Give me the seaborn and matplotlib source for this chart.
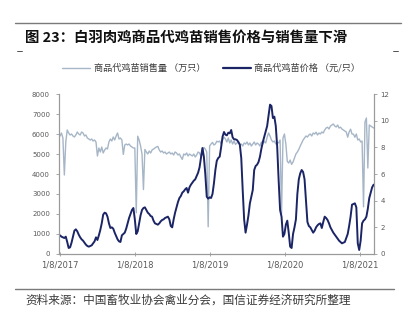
import matplotlib
matplotlib.use('Agg')
import matplotlib.pyplot as plt
import seaborn as sns
import pandas as pd
from matplotlib.lines import Line2D

# ---------------- data ----------------
start_date = '2017-01-08'

volume = [
    5900, 6050, 5800, 3950, 5600, 6200, 6050, 5950, 6000, 5900,
    5850, 5950, 6100, 6000, 5950, 6100, 6050, 5900, 5950, 5800,
    5750, 5700, 5750, 5650, 5700, 5600, 4900, 5300, 5100, 5350,
    5050, 5200, 5300, 5250, 5600, 5750, 5650, 5850, 5700, 5900,
    6050, 5750, 5800, 5700, 4980, 5450, 5500, 5450, 5500, 5400,
    5350, 5300, 5300, 2060, 5890, 5700, 5400, 5000, 3220, 5230,
    5100, 5000, 5150, 5050, 5200, 5250, 5300, 5350, 5380, 5200,
    5100, 5150, 5050, 5100, 5000, 5050, 5100, 5000, 5050, 4950,
    5100, 5050, 4950, 5000, 4850, 4730, 5000, 4950, 5050, 4900,
    5000, 4950, 4900, 5000, 4850, 4950, 5100, 5050, 4880, 5000,
    5330, 5250, 5100, 1360, 5400, 5500, 5580, 5450, 5500, 5640,
    5600, 5650, 5500, 5700, 5850, 5750, 5600, 5800, 5550, 5700,
    5500, 5650, 5480, 5550, 5600, 5450, 5500, 5400, 5550, 5500,
    5600, 5450, 5550, 5400, 5500, 5600, 5450, 5550, 5500, 5400,
    5600, 5500, 5640, 5550, 5840, 6050, 5900, 5700, 5600, 5650,
    5500, 5600, 5550, 5700, 2000, 5800, 6000, 5500, 4630, 4550,
    4700, 4480, 4600, 4800, 5000, 5100, 5230, 5400, 5550, 5700,
    5800, 5900, 5850, 5950, 6000, 5900, 6050, 6000, 6090, 5950,
    6050, 6000, 6100, 6050, 6200, 6300, 6340, 6250, 6400, 6450,
    6500, 6400, 6350, 6450, 6300, 6340, 6250, 6200, 6150, 6100,
    5840, 6100, 6240, 6000, 5990, 5840, 6000, 5700, 5750, 5600,
    5650, 2360, 6600, 6800, 4300, 6450, 6400, 6350, 6300,
]

price = [
    1.4, 1.3, 1.25, 1.2, 1.3, 0.9, 0.45, 0.5, 0.85, 1.3,
    1.75, 1.85, 1.7, 1.45, 1.25, 1.1, 1.0, 0.85, 0.7, 0.6,
    0.55, 0.6, 0.65, 0.8, 0.95, 1.25, 1.05, 1.4, 1.8, 2.3,
    2.95, 3.1, 3.05, 2.8, 2.3, 1.95, 2.0, 1.9, 1.6, 1.35,
    1.1, 0.95, 0.9, 1.4, 1.5, 1.6, 1.9, 2.3, 2.7, 3.0,
    3.3, 3.45, 2.6, 1.5, 1.7, 2.3, 2.9, 3.3, 3.45, 3.5,
    3.3, 3.1, 3.0, 2.85, 2.8, 2.5, 2.3, 2.25, 2.2, 2.3,
    2.45, 2.55, 2.6, 2.7, 2.75, 2.8, 2.6, 2.1, 2.0, 2.6,
    3.1, 3.5, 3.9, 4.2, 4.35, 4.6, 4.7, 4.85, 4.95, 4.6,
    5.0, 5.2, 5.35, 5.5, 5.6, 5.85, 6.1, 6.5, 7.2, 7.95,
    7.3, 6.0, 4.3, 4.15, 4.25, 4.2, 4.5, 5.3, 6.3, 7.0,
    7.2, 7.3, 8.0, 8.8, 9.15, 8.95, 8.9, 9.1, 9.05, 9.3,
    8.75, 8.6, 8.6, 8.55, 8.4, 8.2, 7.2, 4.8, 2.6, 1.6,
    2.2, 2.9, 3.8, 4.3, 4.8, 6.3, 6.6, 6.7, 6.9, 7.3,
    7.9, 8.4, 8.8, 9.2, 9.6, 10.4, 11.2, 11.1, 10.2, 10.3,
    9.6, 8.0, 5.5, 3.3, 2.8, 1.3, 1.5, 2.2, 2.5, 1.6,
    0.55, 0.45, 1.5, 2.0, 2.6, 4.5, 5.6, 6.05, 6.3, 6.15,
    5.6, 4.0, 2.4, 2.1, 2.0, 1.8, 1.6, 1.75, 2.0, 2.15,
    2.25, 2.3, 1.95, 2.4, 2.8, 2.7, 2.55, 2.3, 2.0, 1.8,
    1.6, 1.45, 1.3, 1.15, 1.0, 0.9, 0.8, 0.85, 0.9, 1.2,
    1.5, 2.1, 2.8, 3.7, 3.75, 3.8, 3.5, 0.8, 0.3, 1.0,
    2.3, 2.5, 2.6, 2.8, 3.4, 4.2, 4.6, 5.0, 5.2,
]

x_tick_dates = ['2017-01-08', '2018-01-08', '2019-01-08', '2020-01-08', '2021-01-08']
x_tick_labels = ['1/8/2017', '1/8/2018', '1/8/2019', '1/8/2020', '1/8/2021']
left_ticks = [0, 1000, 2000, 3000, 4000, 5000, 6000, 7000, 8000]
right_ticks = [0, 2, 4, 6, 8, 10, 12]

label_volume = '商品代鸡苗销售量 （万只）'
label_price = '商品代鸡苗价格 （元/只）'
title_text = '图 23：白羽肉鸡商品代鸡苗销售价格与销售量下滑'
source_text = '资料来源：中国畜牧业协会禽业分会，国信证券经济研究所整理'

# ---------------- style ----------------
sns.set_style('white')
plt.rcParams['font.family'] = ['Noto Sans CJK SC', 'DejaVu Sans']

c_vol = '#a6b6c7'
c_price = '#1b2566'
c_tick = '#5a5a5a'
c_spine = '#9a9a9a'

dates = pd.date_range(start_date, periods=len(volume), freq='7D')
df = pd.DataFrame({'date': dates, 'volume': volume, 'price': price})

W, H = 408, 315
fig = plt.figure(figsize=(W / 100, H / 100), dpi=100)
ax = fig.add_axes([59 / W, 1 - 254 / H, (374 - 59) / W, (254 - 94) / H])

sns.lineplot(data=df, x='date', y='volume', ax=ax, color=c_vol, linewidth=1.0)
ax2 = ax.twinx()
sns.lineplot(data=df, x='date', y='price', ax=ax2, color=c_price, linewidth=1.4)

ax.set_xlim(pd.Timestamp('2017-01-03'), pd.Timestamp('2021-03-16'))
ax.set_ylim(0, 8000)
ax2.set_ylim(0, 12)
ax.set_yticks(left_ticks)
ax.set_yticklabels([str(t) for t in left_ticks])
ax2.set_yticks(right_ticks)
ax2.set_yticklabels([str(t) for t in right_ticks])
ax.set_xticks([pd.Timestamp(d) for d in x_tick_dates])
ax.set_xticklabels(x_tick_labels)

for a in (ax, ax2):
    a.set_xlabel('')
    a.set_ylabel('')
    a.grid(False)
    for s in a.spines.values():
        s.set_color(c_spine)
        s.set_linewidth(0.8)
    a.spines['top'].set_visible(False)

ax.tick_params(axis='y', which='both', direction='out', length=2.5, width=0.6,
               color=c_spine, labelsize=5, labelcolor=c_tick, pad=4, left=True)
ax.tick_params(axis='x', which='both', direction='inout', length=3, width=0.6,
               color=c_spine, labelsize=6, labelcolor=c_tick, pad=3, bottom=True)
ax2.tick_params(axis='y', which='both', direction='out', length=2.5, width=0.6,
                color=c_spine, labelsize=5, labelcolor=c_tick, pad=2, right=True)
for lab in ax.get_xticklabels() + ax.get_yticklabels() + ax2.get_yticklabels():
    lab.set_fontfamily('DejaVu Sans')

# legend
handles = [Line2D([], [], color=c_vol, linewidth=1.0),
           Line2D([], [], color=c_price, linewidth=1.6)]
fig.legend(handles, [label_volume, label_price], ncol=2, loc='center left',
           bbox_to_anchor=(62 / W, 1 - 68 / H), bbox_transform=fig.transFigure,
           frameon=False, fontsize=6.6, handlelength=3.1, handletextpad=0.35,
           columnspacing=1.9, borderpad=0, borderaxespad=0, labelcolor='#3a3a3a')

# title, rules, source
fig.add_artist(Line2D([15 / W, 401 / W], [1 - 23 / H] * 2, color='#7a7a7a', linewidth=1.0))
fig.add_artist(Line2D([17 / W, 22 / W], [1 - 51 / H] * 2, color='#333333', linewidth=0.6))
fig.add_artist(Line2D([393 / W, 398 / W], [1 - 51 / H] * 2, color='#333333', linewidth=0.6))
fig.text(25 / W, 1 - 38 / H, title_text, fontsize=10.4, fontweight='bold',
         color='#111111', va='center', ha='left')
fig.add_artist(Line2D([15 / W, 394 / W], [1 - 289 / H] * 2, color='#7a7a7a', linewidth=1.0))
fig.text(25 / W, 1 - 300 / H, source_text, fontsize=8.4, color='#3a3a3a',
         va='center', ha='left')

fig.savefig('out.png', dpi=100)
